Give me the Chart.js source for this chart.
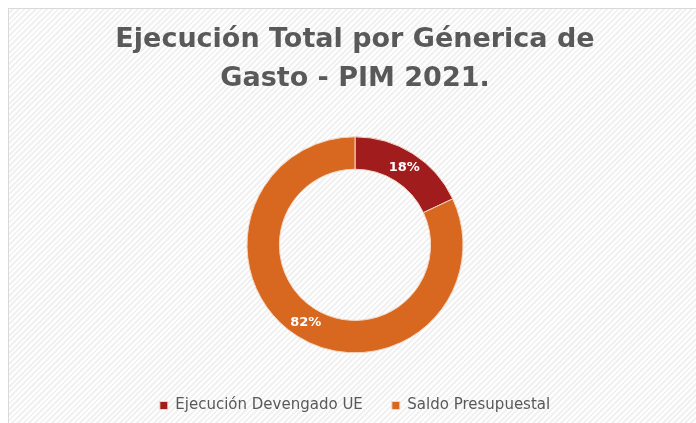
<!DOCTYPE html>
<html>
<head>
<meta charset="utf-8">
<script src="https://cdn.jsdelivr.net/npm/chart.js@4/dist/chart.umd.min.js"></script>
<style>
  html, body { margin: 0; padding: 0; background: #ffffff; }
  #frame {
    position: absolute; left: 8px; top: 8px; width: 700px; height: 430px;
    border: 1px solid #d9d9d9;
    background-color: #f6f6f6;
    background-image: repeating-linear-gradient(135deg, rgba(255,255,255,0.9) 0px, rgba(255,255,255,0.9) 2px, rgba(238,238,238,0.6) 2px, rgba(238,238,238,0.6) 4px);
  }
  #wrap { position: absolute; left: 0; top: 0; width: 696px; height: 423px; }
</style>
</head>
<body>
<div id="frame"></div>
<div id="wrap"><canvas id="c" width="696" height="423"></canvas></div>
<script>
const categories = ["Ejecución Devengado UE", "Saldo Presupuestal"];
const values = [18, 82];
const colors = ["#a11c1c", "#d8671f"];
const titleLines = ["Ejecución Total por Génerica de", "Gasto - PIM 2021."];

const labelPlugin = {
  id: 'sliceLabels',
  afterDatasetsDraw(chart) {
    const ctx = chart.ctx;
    const meta = chart.getDatasetMeta(0);
    const data = chart.data.datasets[0].data;
    const total = data.reduce((a, b) => a + b, 0);
    ctx.save();
    ctx.font = 'bold 13px "DejaVu Sans", sans-serif';
    ctx.fillStyle = '#ffffff';
    ctx.textAlign = 'center';
    ctx.textBaseline = 'middle';
    meta.data.forEach((arc, i) => {
      const p = arc.tooltipPosition();
      ctx.fillText(Math.round(data[i] / total * 100) + '%', p.x, p.y);
    });
    ctx.restore();
  }
};

new Chart(document.getElementById('c'), {
  type: 'doughnut',
  data: {
    labels: categories,
    datasets: [{
      data: values,
      backgroundColor: colors,
      borderColor: '#f3d7c4',
      borderWidth: 1
    }]
  },
  options: {
    responsive: false,
    animation: false,
    cutout: '70%',
    radius: 108,
    layout: { padding: { left: 14, right: 0, top: 0, bottom: 0 } },
    plugins: {
      tooltip: { enabled: false },
      title: {
        display: true,
        text: titleLines,
        color: '#595959',
        font: { family: '"DejaVu Sans", sans-serif', size: 27, weight: 'bold', lineHeight: 1.42 },
        padding: { top: 21, bottom: 23 }
      },
      legend: {
        position: 'bottom',
        labels: {
          color: '#595959',
          font: { family: '"DejaVu Sans", sans-serif', size: 15 },
          boxWidth: 8,
          boxHeight: 8,
          padding: 29
        }
      }
    }
  },
  plugins: [labelPlugin]
});
</script>
</body>
</html>
